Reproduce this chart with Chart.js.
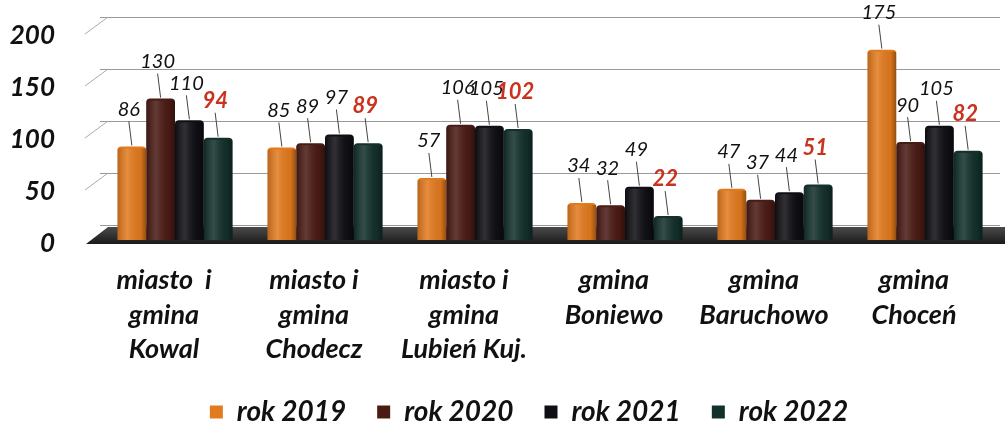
<!DOCTYPE html>
<html>
<head>
<meta charset="utf-8">
<script src="https://cdn.jsdelivr.net/npm/chart.js@4.4.1/dist/chart.umd.min.js"></script>
<style>
  html, body { margin: 0; padding: 0; background: #ffffff; }
  #wrap { width: 1005px; height: 423px; position: relative; }
</style>
</head>
<body>
<div id="wrap"><canvas id="c" width="1005" height="423"></canvas></div>
<script>
// ---- data ----
const categories = [
  ["miasto  i", "gmina", "Kowal"],
  ["miasto i", "gmina", "Chodecz"],
  ["miasto i", "gmina", "Lubień Kuj."],
  ["gmina", "Boniewo"],
  ["gmina", "Baruchowo"],
  ["gmina", "Choceń"]
];
const seriesNames = ["rok 2019", "rok 2020", "rok 2021", "rok 2022"];
const values2019 = [86, 85, 57, 34, 47, 175];
const values2020 = [130, 89, 106, 32, 37, 90];
const values2021 = [110, 97, 105, 49, 44, 105];
const values2022 = [94, 89, 102, 22, 51, 82];
const yTickValues = [0, 50, 100, 150, 200];

// ---- styles ----
const FONT = "Lato, 'Open Sans', sans-serif";
const colors = ["#e27a1e", "#4a1a14", "#0e0e14", "#13302a"];
const labelColors = ["#111111", "#111111", "#111111", "#c8321e"];
const NO_BORDER = { display: false, color: 'rgba(0,0,0,0)', width: 0 };

const wallPlugin = {
  id: 'wall',
  beforeDatasetsDraw(chart) {
    const ctx = chart.ctx, a = chart.chartArea, yg = chart.scales.yg;
    ctx.save();
    // slanted side-wall grid stubs
    ctx.strokeStyle = '#aaaaaa';
    ctx.lineWidth = 1;
    yTickValues.forEach(v => {
      if (v === 0) return;
      const py = yg.getPixelForValue(v);
      ctx.beginPath();
      ctx.moveTo(a.left - 15, py + 17);
      ctx.lineTo(a.left + 8, py);
      ctx.stroke();
    });
    // floor
    const front = chart.scales.y.getPixelForValue(0) + 4;
    const back = yg.getPixelForValue(0) + 2;
    const g = ctx.createLinearGradient(0, back, 0, front);
    g.addColorStop(0, '#4a4a4a');
    g.addColorStop(1, '#1a1a1a');
    ctx.fillStyle = g;
    ctx.beginPath();
    ctx.moveTo(a.left - 14, front);
    ctx.lineTo(a.left + 8, back);
    ctx.lineTo(a.right + 6, back);
    ctx.lineTo(a.right + 6, front);
    ctx.closePath();
    ctx.fill();
    ctx.restore();
  }
};

const shadePlugin = {
  id: 'shade',
  afterDatasetsDraw(chart) {
    const ctx = chart.ctx;
    ctx.save();
    chart.data.datasets.forEach((ds, di) => {
      chart.getDatasetMeta(di).data.forEach(bar => {
        const l = bar.x - bar.width / 2, r = bar.x + bar.width / 2;
        const g = ctx.createLinearGradient(l, 0, r, 0);
        g.addColorStop(0, 'rgba(0,0,0,0.18)');
        g.addColorStop(0.35, 'rgba(255,255,255,0.14)');
        g.addColorStop(0.8, 'rgba(0,0,0,0.05)');
        g.addColorStop(1, 'rgba(0,0,0,0.35)');
        ctx.fillStyle = g;
        ctx.fillRect(l, bar.y + 2, bar.width, bar.base - bar.y - 2);
      });
    });
    ctx.restore();
  }
};

const valueLabelPlugin = {
  id: 'valueLabels',
  afterDatasetsDraw(chart) {
    const ctx = chart.ctx;
    ctx.save();
    chart.data.datasets.forEach((ds, di) => {
      const meta = chart.getDatasetMeta(di);
      meta.data.forEach((bar, i) => {
        const v = ds.data[i];
        const x = bar.x - 3;
        const top = bar.y;
        const ly = top - 37;
        ctx.strokeStyle = '#444444';
        ctx.lineWidth = 1;
        ctx.beginPath();
        ctx.moveTo(bar.x, top - 1);
        ctx.lineTo(x, ly + 12);
        ctx.stroke();
        const red = di === 3;
        ctx.font = (red ? 'italic bold 22px ' : 'italic 20px ') + FONT;
        ctx.fillStyle = labelColors[di];
        ctx.textAlign = 'center';
        ctx.textBaseline = 'middle';
        ctx.fillText(String(v), x, ly);
      });
    });
    ctx.restore();
  }
};

const legendShift = {
  id: 'legendShift',
  afterLayout(chart) {
    const l = chart.legend;
    if (l) { l.left -= 21; l.right -= 21; }
  }
};

const allSeries = [values2019, values2020, values2021, values2022];

new Chart(document.getElementById('c'), {
  type: 'bar',
  data: {
    labels: categories,
    datasets: allSeries.map((vals, i) => ({
      label: seriesNames[i],
      data: vals,
      backgroundColor: colors[i],
      borderWidth: 0,
      borderRadius: { topLeft: 4, topRight: 4, bottomLeft: 0, bottomRight: 0 },
      borderSkipped: 'bottom',
      yAxisID: 'y',
      categoryPercentage: 0.767,
      barPercentage: 1.0
    }))
  },
  options: {
    responsive: false,
    animation: false,
    devicePixelRatio: 1,
    layout: { padding: { top: 17, left: 10, right: 5, bottom: 0 } },
    plugins: {
      legend: {
        position: 'bottom',
        fullSize: false,
        maxHeight: 56,
        labels: {
          boxWidth: 13,
          boxHeight: 13,
          padding: 31,
          color: '#111111',
          font: { family: FONT, size: 28, weight: 'bold', style: 'italic' }
        }
      },
      tooltip: { enabled: false }
    },
    scales: {
      x: {
        grid: { display: false, drawTicks: false },
        border: NO_BORDER,
        ticks: {
          color: '#111111',
          padding: 23,
          labelOffset: -11,
          maxRotation: 0,
          autoSkip: false,
          font: { family: FONT, size: 27, weight: 'bold', style: 'italic', lineHeight: 1.28 }
        },
        afterFit(scale) { scale.height = 127; }
      },
      y: {
        display: false,
        min: 0,
        max: 205,
        grid: { display: false },
        border: NO_BORDER
      },
      yg: {
        position: 'left',
        min: -14.4,
        max: 200,
        afterBuildTicks(scale) {
          scale.ticks = yTickValues.map(v => ({ value: v }));
        },
        grid: { color: '#999999', lineWidth: 1, drawTicks: false },
        border: NO_BORDER,
        ticks: {
          color: '#111111',
          padding: 45,
          labelOffset: 19,
          autoSkip: false,
          font: { family: FONT, size: 26, weight: 'bold', style: 'italic' }
        },
        afterFit(scale) {
          scale.width = 90;
          scale.paddingTop = 0;
          scale.paddingBottom = 0;
        }
      }
    }
  },
  plugins: [wallPlugin, shadePlugin, valueLabelPlugin, legendShift]
});
</script>
</body>
</html>
